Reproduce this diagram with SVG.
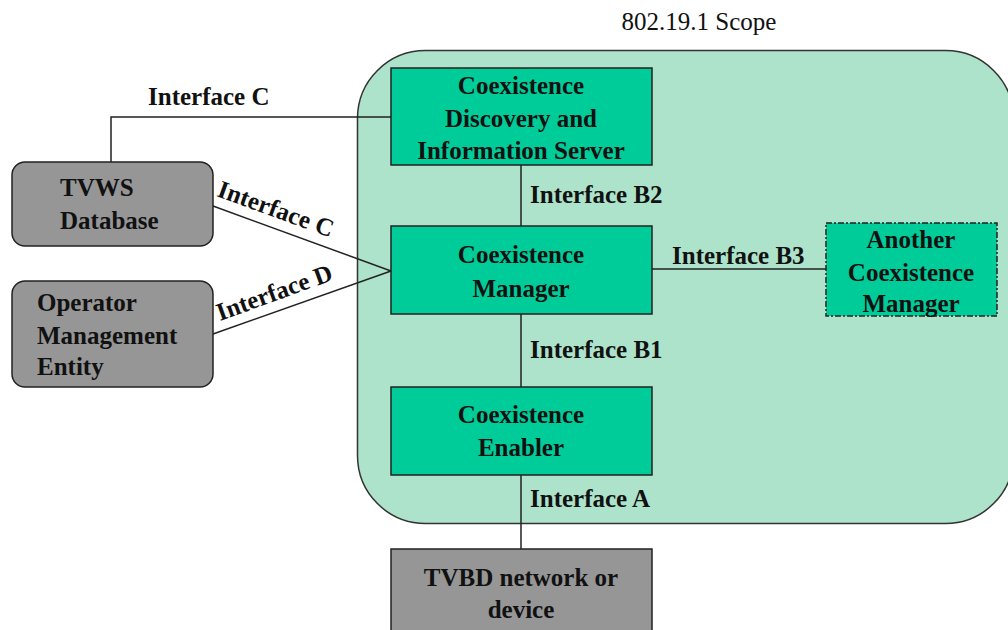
<svg xmlns="http://www.w3.org/2000/svg" width="1008" height="630" viewBox="0 0 1008 630">
<style>
text{font-family:"Liberation Serif","Times New Roman",serif;font-size:25px;fill:#111}
.b{font-weight:bold}
.c{text-anchor:middle}
.g{fill:#00cc99;stroke:#222;stroke-width:1.5}
.gr{fill:#969696;stroke:#222;stroke-width:1.5}
.ln{stroke:#222;stroke-width:1.5;fill:none}
</style>
<rect width="1008" height="630" fill="#ffffff"/>
<g id="scope">
<rect x="357.5" y="50.5" width="656" height="473" rx="68" ry="68" fill="#ade3cb" stroke="#333" stroke-width="1.5"/>
<text x="699" y="30" class="c">802.19.1 Scope</text>
</g>
<g id="connectors">
<polyline class="ln" points="111,162 111,117 391,117"/>
<line class="ln" x1="213" y1="206" x2="391" y2="271"/>
<line class="ln" x1="213" y1="334" x2="391" y2="271"/>
<line class="ln" x1="521" y1="165" x2="521" y2="226"/>
<line class="ln" x1="652" y1="269" x2="826" y2="269"/>
<line class="ln" x1="521" y1="314" x2="521" y2="387"/>
<line class="ln" x1="521" y1="475" x2="521" y2="549"/>
<text class="b" x="148" y="105">Interface C</text>
<text class="b" transform="translate(216,196) rotate(20)">Interface C</text>
<text class="b" transform="translate(220,321) rotate(-20)">Interface D</text>
<text class="b" x="530" y="203">Interface B2</text>
<text class="b" x="672" y="264">Interface B3</text>
<text class="b" x="530" y="358">Interface B1</text>
<text class="b" x="530" y="507">Interface A</text>
</g>
<g id="cdis">
<rect class="g" x="391" y="68" width="261" height="97"/>
<text class="b c" x="521" y="94">Coexistence</text>
<text class="b c" x="521" y="127">Discovery and</text>
<text class="b c" x="521" y="159">Information Server</text>
</g>
<g id="cm">
<rect class="g" x="391" y="226" width="261" height="88"/>
<text class="b c" x="521" y="263">Coexistence</text>
<text class="b c" x="521" y="297">Manager</text>
</g>
<g id="ce">
<rect class="g" x="391" y="387" width="261" height="88"/>
<text class="b c" x="521" y="423">Coexistence</text>
<text class="b c" x="521" y="456">Enabler</text>
</g>
<g id="tvbd">
<rect class="gr" x="391" y="549" width="261" height="100"/>
<text class="b c" x="521" y="586">TVBD network or</text>
<text class="b c" x="521" y="618">device</text>
</g>
<g id="acm">
<rect class="g" x="826" y="223" width="171" height="93" stroke-dasharray="6,2,2,2"/>
<text class="b c" x="911" y="248">Another</text>
<text class="b c" x="911" y="281">Coexistence</text>
<text class="b c" x="911" y="312">Manager</text>
</g>
<g id="tvws">
<rect class="gr" x="12" y="162" width="201" height="84" rx="13" ry="13"/>
<text class="b" x="60" y="196">TVWS</text>
<text class="b" x="60" y="229">Database</text>
</g>
<g id="ome">
<rect class="gr" x="12" y="281" width="201" height="106" rx="13" ry="13"/>
<text class="b" x="37" y="311">Operator</text>
<text class="b" x="37" y="344">Management</text>
<text class="b" x="37" y="375">Entity</text>
</g>
</svg>
